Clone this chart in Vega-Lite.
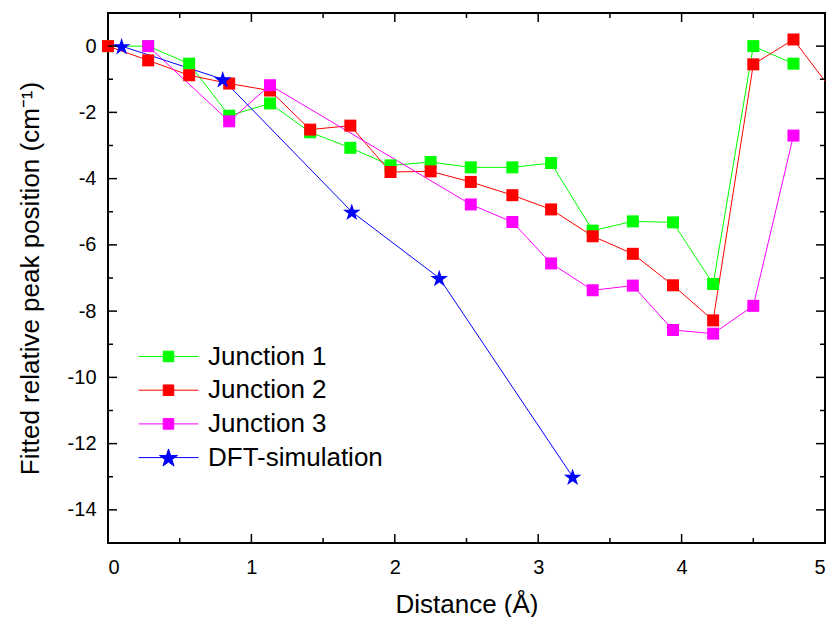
{
  "$schema": "https://vega.github.io/schema/vega-lite/v6.json",
  "width": 717,
  "height": 530,
  "autosize": {"type": "none"},
  "padding": {"left": 108, "top": 13, "right": 4, "bottom": 74},
  "background": "white",
  "datasets": {
    "xmaj": [{"v": 1}, {"v": 2}, {"v": 3}, {"v": 4}],
    "xmin": [{"v": 0.5}, {"v": 1.5}, {"v": 2.5}, {"v": 3.5}, {"v": 4.5}],
    "ymaj": [{"v": -14}, {"v": -12}, {"v": -10}, {"v": -8}, {"v": -6}, {"v": -4}, {"v": -2}, {"v": 0}],
    "ymin": [{"v": -13}, {"v": -11}, {"v": -9}, {"v": -7}, {"v": -5}, {"v": -3}, {"v": -1}]
  },
  "data": {
    "values": [
      {"series": "Junction 1", "x": 0, "y": 0},
      {"series": "Junction 1", "x": 0.28, "y": 0},
      {"series": "Junction 1", "x": 0.566, "y": -0.53},
      {"series": "Junction 1", "x": 0.845, "y": -2.1},
      {"series": "Junction 1", "x": 1.13, "y": -1.73},
      {"series": "Junction 1", "x": 1.41, "y": -2.6},
      {"series": "Junction 1", "x": 1.69, "y": -3.07},
      {"series": "Junction 1", "x": 1.97, "y": -3.6},
      {"series": "Junction 1", "x": 2.25, "y": -3.5},
      {"series": "Junction 1", "x": 2.53, "y": -3.66},
      {"series": "Junction 1", "x": 2.82, "y": -3.66},
      {"series": "Junction 1", "x": 3.09, "y": -3.53},
      {"series": "Junction 1", "x": 3.38, "y": -5.57},
      {"series": "Junction 1", "x": 3.66, "y": -5.29},
      {"series": "Junction 1", "x": 3.94, "y": -5.32},
      {"series": "Junction 1", "x": 4.22, "y": -7.18},
      {"series": "Junction 1", "x": 4.5, "y": 0},
      {"series": "Junction 1", "x": 4.78, "y": -0.53},
      {"series": "Junction 2", "x": 0, "y": 0},
      {"series": "Junction 2", "x": 0.28, "y": -0.43},
      {"series": "Junction 2", "x": 0.566, "y": -0.88},
      {"series": "Junction 2", "x": 0.845, "y": -1.13},
      {"series": "Junction 2", "x": 1.13, "y": -1.34},
      {"series": "Junction 2", "x": 1.41, "y": -2.52},
      {"series": "Junction 2", "x": 1.69, "y": -2.4},
      {"series": "Junction 2", "x": 1.97, "y": -3.8},
      {"series": "Junction 2", "x": 2.25, "y": -3.78},
      {"series": "Junction 2", "x": 2.53, "y": -4.1},
      {"series": "Junction 2", "x": 2.82, "y": -4.5},
      {"series": "Junction 2", "x": 3.09, "y": -4.93},
      {"series": "Junction 2", "x": 3.38, "y": -5.74},
      {"series": "Junction 2", "x": 3.66, "y": -6.27},
      {"series": "Junction 2", "x": 3.94, "y": -7.22},
      {"series": "Junction 2", "x": 4.22, "y": -8.28},
      {"series": "Junction 2", "x": 4.5, "y": -0.55},
      {"series": "Junction 2", "x": 4.78, "y": 0.2},
      {"series": "Junction 2", "x": 5.06, "y": -1.4},
      {"series": "Junction 3", "x": 0.28, "y": 0},
      {"series": "Junction 3", "x": 0.845, "y": -2.27},
      {"series": "Junction 3", "x": 1.13, "y": -1.18},
      {"series": "Junction 3", "x": 2.53, "y": -4.78},
      {"series": "Junction 3", "x": 2.82, "y": -5.31},
      {"series": "Junction 3", "x": 3.09, "y": -6.56},
      {"series": "Junction 3", "x": 3.38, "y": -7.37},
      {"series": "Junction 3", "x": 3.66, "y": -7.23},
      {"series": "Junction 3", "x": 3.94, "y": -8.57},
      {"series": "Junction 3", "x": 4.22, "y": -8.68},
      {"series": "Junction 3", "x": 4.5, "y": -7.84},
      {"series": "Junction 3", "x": 4.78, "y": -2.7},
      {"series": "DFT-simulation", "x": 0.095, "y": 0},
      {"series": "DFT-simulation", "x": 0.8, "y": -1},
      {"series": "DFT-simulation", "x": 1.7, "y": -5},
      {"series": "DFT-simulation", "x": 2.31, "y": -7},
      {"series": "DFT-simulation", "x": 3.24, "y": -13}
    ]
  },
  "layer": [
    {
      "mark": {"type": "line", "strokeWidth": 1, "clip": true},
      "encoding": {
        "x": {"field": "x", "type": "quantitative", "scale": {"domain": [0, 5], "nice": false, "zero": false},
          "axis": {"orient": "bottom", "values": [0, 1, 2, 3, 4, 5], "labelPadding": 14, "title": "Distance (Å)", "titlePadding": 14}},
        "y": {"field": "y", "type": "quantitative", "scale": {"domain": [-15, 1], "nice": false, "zero": false},
          "axis": {"orient": "left", "values": [-14, -12, -10, -8, -6, -4, -2, 0], "labelPadding": 12, "labelExpr": "toString(datum.value)", "title": "Fitted relative peak position (cm⁻¹)", "titlePadding": 24}},
        "color": {"field": "series", "type": "nominal",
          "scale": {"domain": ["Junction 1", "Junction 2", "Junction 3", "DFT-simulation"], "range": ["#00ff00", "#ff0000", "#ff00ff", "#0000ff"]},
          "legend": {"orient": "none", "legendX": 44, "legendY": 327, "title": null, "symbolSize": 1024, "symbolStrokeWidth": 1, "symbolOpacity": 1, "rowPadding": 3.7, "labelOffset": 23, "padding": 0,
            "labelFont": "Liberation Sans", "labelFontSize": 26, "labelColor": "black", "labelLimit": 400}}
      }
    },
    {
      "transform": [{"filter": "datum.series !== 'DFT-simulation' && datum.x <= 5"}],
      "mark": {"type": "point", "filled": true, "opacity": 1, "strokeWidth": 0, "shape": "square", "size": 144},
      "encoding": {
        "x": {"field": "x", "type": "quantitative", "scale": {"domain": [0, 5], "nice": false, "zero": false}, "axis": null},
        "y": {"field": "y", "type": "quantitative", "scale": {"domain": [-15, 1], "nice": false, "zero": false}, "axis": null},
        "color": {"field": "series", "type": "nominal",
          "scale": {"domain": ["Junction 1", "Junction 2", "Junction 3", "DFT-simulation"], "range": ["#00ff00", "#ff0000", "#ff00ff", "#0000ff"]},
          "legend": {"orient": "none", "legendX": 44, "legendY": 327, "title": null, "symbolSize": 1024, "symbolStrokeWidth": 1, "symbolOpacity": 1, "rowPadding": 3.7, "labelOffset": 23, "padding": 0,
            "labelFont": "Liberation Sans", "labelFontSize": 26, "labelColor": "black", "labelLimit": 400}}
      }
    },
    {
      "transform": [{"filter": "datum.series === 'DFT-simulation'"}],
      "mark": {"type": "point", "filled": true, "opacity": 1, "strokeWidth": 0, "size": 340,
        "shape": "M0,-0.905L0.2245,-0.214L0.951,-0.214L0.363,0.213L0.588,0.904L0,0.477L-0.588,0.904L-0.363,0.213L-0.951,-0.214L-0.2245,-0.214Z"},
      "encoding": {
        "x": {"field": "x", "type": "quantitative", "scale": {"domain": [0, 5], "nice": false, "zero": false}, "axis": null},
        "y": {"field": "y", "type": "quantitative", "scale": {"domain": [-15, 1], "nice": false, "zero": false}, "axis": null},
        "color": {"field": "series", "type": "nominal",
          "scale": {"domain": ["Junction 1", "Junction 2", "Junction 3", "DFT-simulation"], "range": ["#00ff00", "#ff0000", "#ff00ff", "#0000ff"]},
          "legend": {"orient": "none", "legendX": 44, "legendY": 327, "title": null, "symbolSize": 1024, "symbolStrokeWidth": 1, "symbolOpacity": 1, "rowPadding": 3.7, "labelOffset": 23, "padding": 0,
            "labelFont": "Liberation Sans", "labelFontSize": 26, "labelColor": "black", "labelLimit": 400}}
      }
    },
    {
      "transform": [{"filter": "datum.x > 100"}],
      "mark": {"type": "point", "opacity": 1, "filled": true, "strokeWidth": 1},
      "encoding": {
        "x": {"field": "x", "type": "quantitative", "scale": {"domain": [0, 5], "nice": false, "zero": false}, "axis": null},
        "y": {"field": "y", "type": "quantitative", "scale": {"domain": [-15, 1], "nice": false, "zero": false}, "axis": null},
        "color": {"field": "series", "type": "nominal",
          "scale": {"domain": ["Junction 1", "Junction 2", "Junction 3", "DFT-simulation"], "range": ["#00ff00", "#ff0000", "#ff00ff", "#0000ff"]},
          "legend": {"orient": "none", "legendX": 44, "legendY": 327, "title": null, "symbolSize": 1024, "symbolStrokeWidth": 1, "symbolOpacity": 1, "rowPadding": 3.7, "labelOffset": 23, "padding": 0,
            "labelFont": "Liberation Sans", "labelFontSize": 26, "labelColor": "black", "labelLimit": 400}},
        "stroke": {"field": "series", "type": "nominal",
          "scale": {"domain": ["Junction 1", "Junction 2", "Junction 3", "DFT-simulation"], "range": ["#00ff00", "#ff0000", "#ff00ff", "#0000ff"]},
          "legend": {"orient": "none", "legendX": 44, "legendY": 327, "title": null, "symbolSize": 1024, "symbolStrokeWidth": 1, "symbolOpacity": 1, "rowPadding": 3.7, "labelOffset": 23, "padding": 0,
            "labelFont": "Liberation Sans", "labelFontSize": 26, "labelColor": "black", "labelLimit": 400}},
        "shape": {"field": "series", "type": "nominal",
          "scale": {"domain": ["Junction 1", "Junction 2", "Junction 3", "DFT-simulation"], "range": [
            "M-1.875,0H1.875M-0.33,-0.33H0.33V0.33H-0.33Z",
            "M-1.875,0H1.875M-0.33,-0.33H0.33V0.33H-0.33Z",
            "M-1.875,0H1.875M-0.33,-0.33H0.33V0.33H-0.33Z",
            "M-1.875,0H1.875M0,-0.54L0.1325,-0.1323L0.5611,-0.1323L0.2142,0.1196L0.3469,0.5273L0,0.2754L-0.3469,0.5273L-0.2142,0.1196L-0.5611,-0.1323L-0.1325,-0.1323Z"]},
          "legend": {"orient": "none", "legendX": 44, "legendY": 327, "title": null, "symbolSize": 1024, "symbolStrokeWidth": 1, "symbolOpacity": 1, "rowPadding": 3.7, "labelOffset": 23, "padding": 0,
            "labelFont": "Liberation Sans", "labelFontSize": 26, "labelColor": "black", "labelLimit": 400}}
      }
    },
    {
      "data": {"name": "xmaj"},
      "mark": {"type": "tick", "orient": "vertical", "clip": true, "size": 18, "thickness": 1.5, "color": "black", "opacity": 1},
      "encoding": {
        "x": {"field": "v", "type": "quantitative", "scale": {"domain": [0, 5], "nice": false, "zero": false}, "axis": null},
        "y": {"datum": -15, "type": "quantitative", "scale": {"domain": [-15, 1], "nice": false, "zero": false}, "axis": null}
      }
    },
    {
      "data": {"name": "xmaj"},
      "mark": {"type": "tick", "orient": "vertical", "clip": true, "size": 18, "thickness": 1.5, "color": "black", "opacity": 1},
      "encoding": {
        "x": {"field": "v", "type": "quantitative", "scale": {"domain": [0, 5], "nice": false, "zero": false}, "axis": null},
        "y": {"datum": 1, "type": "quantitative", "scale": {"domain": [-15, 1], "nice": false, "zero": false}, "axis": null}
      }
    },
    {
      "data": {"name": "xmin"},
      "mark": {"type": "tick", "orient": "vertical", "clip": true, "size": 10, "thickness": 1.5, "color": "black", "opacity": 1},
      "encoding": {
        "x": {"field": "v", "type": "quantitative", "scale": {"domain": [0, 5], "nice": false, "zero": false}, "axis": null},
        "y": {"datum": -15, "type": "quantitative", "scale": {"domain": [-15, 1], "nice": false, "zero": false}, "axis": null}
      }
    },
    {
      "data": {"name": "xmin"},
      "mark": {"type": "tick", "orient": "vertical", "clip": true, "size": 10, "thickness": 1.5, "color": "black", "opacity": 1},
      "encoding": {
        "x": {"field": "v", "type": "quantitative", "scale": {"domain": [0, 5], "nice": false, "zero": false}, "axis": null},
        "y": {"datum": 1, "type": "quantitative", "scale": {"domain": [-15, 1], "nice": false, "zero": false}, "axis": null}
      }
    },
    {
      "data": {"name": "ymaj"},
      "mark": {"type": "tick", "orient": "horizontal", "clip": true, "size": 18, "thickness": 1.5, "color": "black", "opacity": 1},
      "encoding": {
        "y": {"field": "v", "type": "quantitative", "scale": {"domain": [-15, 1], "nice": false, "zero": false}, "axis": null},
        "x": {"datum": 0, "type": "quantitative", "scale": {"domain": [0, 5], "nice": false, "zero": false}, "axis": null}
      }
    },
    {
      "data": {"name": "ymaj"},
      "mark": {"type": "tick", "orient": "horizontal", "clip": true, "size": 18, "thickness": 1.5, "color": "black", "opacity": 1},
      "encoding": {
        "y": {"field": "v", "type": "quantitative", "scale": {"domain": [-15, 1], "nice": false, "zero": false}, "axis": null},
        "x": {"datum": 5, "type": "quantitative", "scale": {"domain": [0, 5], "nice": false, "zero": false}, "axis": null}
      }
    },
    {
      "data": {"name": "ymin"},
      "mark": {"type": "tick", "orient": "horizontal", "clip": true, "size": 10, "thickness": 1.5, "color": "black", "opacity": 1},
      "encoding": {
        "y": {"field": "v", "type": "quantitative", "scale": {"domain": [-15, 1], "nice": false, "zero": false}, "axis": null},
        "x": {"datum": 0, "type": "quantitative", "scale": {"domain": [0, 5], "nice": false, "zero": false}, "axis": null}
      }
    },
    {
      "data": {"name": "ymin"},
      "mark": {"type": "tick", "orient": "horizontal", "clip": true, "size": 10, "thickness": 1.5, "color": "black", "opacity": 1},
      "encoding": {
        "y": {"field": "v", "type": "quantitative", "scale": {"domain": [-15, 1], "nice": false, "zero": false}, "axis": null},
        "x": {"datum": 5, "type": "quantitative", "scale": {"domain": [0, 5], "nice": false, "zero": false}, "axis": null}
      }
    }
  ],
  "resolve": {"axis": {"x": "independent", "y": "independent"}},
  "config": {
    "view": {"stroke": "black", "strokeWidth": 2},
    "axis": {"domain": false, "ticks": false, "grid": false,
      "labelFont": "Liberation Sans", "labelFontSize": 20, "labelColor": "black",
      "titleFont": "Liberation Sans", "titleFontSize": 26, "titleFontWeight": "normal", "titleColor": "black"}
  }
}
